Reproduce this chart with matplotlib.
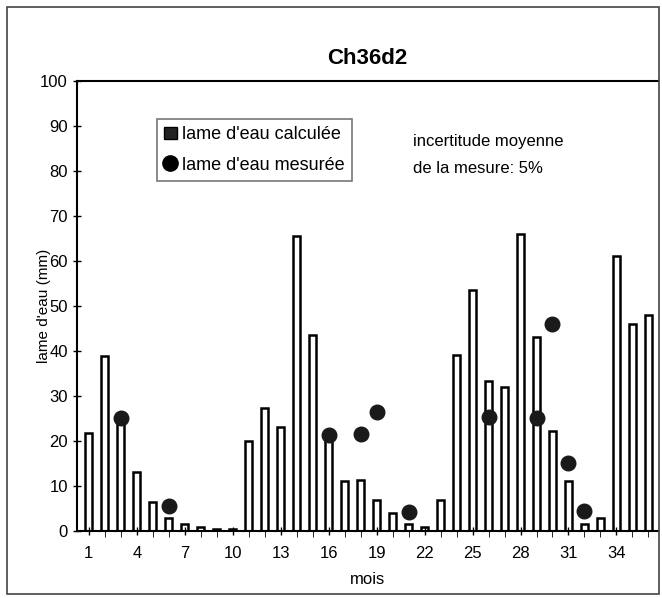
import matplotlib
matplotlib.use("Agg")
import matplotlib.pyplot as plt
from matplotlib.patches import Rectangle
from matplotlib.lines import Line2D

plt.rcParams['font.family'] = ['Liberation Sans', 'DejaVu Sans']

# lame d'eau calculée (mm), mois 1..36
mois = list(range(1, 37))
calculee = [21.7, 38.8, 24.0, 13.0, 6.4, 3.0, 1.5, 0.8, 0.5, 0.4,
            20.0, 27.3, 23.0, 65.5, 43.5, 21.0, 11.0, 11.3, 7.0, 4.0,
            1.5, 1.0, 7.0, 39.0, 53.5, 33.3, 32.0, 66.0, 43.0, 22.3,
            11.0, 1.5, 3.0, 61.0, 46.0, 48.0]

# lame d'eau mesurée (mm)
mois_mes = [3, 6, 16, 18, 19, 21, 26, 29, 30, 31, 32]
mesuree = [25.2, 5.5, 21.3, 21.5, 26.5, 4.2, 25.3, 25.0, 46.0, 15.0, 4.5]

fig = plt.figure(figsize=(6.62, 5.98), dpi=100)
ax = fig.add_axes([0.116, 0.112, 0.878, 0.753])

ax.bar(mois, calculee, width=0.45, color='white', edgecolor='black', linewidth=1.8)
ax.scatter(mois_mes, mesuree, s=110, color='#1a1a1a', zorder=3)

ax.set_xlim(0.25, 36.6)
ax.set_ylim(0, 100)
ax.set_yticks(range(0, 101, 10))
ax.set_xticks(range(1, 35, 3))
ax.set_xticks(mois, minor=True)
ax.tick_params(axis='both', direction='inout', labelsize=12, width=1, length=6)
ax.tick_params(axis='x', which='minor', direction='out', length=4)
ax.tick_params(axis='x', pad=8)
for s in ['left', 'bottom', 'top']:
    ax.spines[s].set_linewidth(1.5)
ax.spines['right'].set_visible(False)

ax.set_title('Ch36d2', fontsize=16, fontweight='bold', pad=12)
ax.set_xlabel('mois', fontsize=12, labelpad=8)
ax.set_ylabel("lame d'eau (mm)", fontsize=11)
ax.yaxis.set_label_coords(-0.045, 0.5)

handles = [Rectangle((0, 0), 1, 1, facecolor='#222222', edgecolor='black'),
           Line2D([], [], marker='o', linestyle='none', color='black', markersize=11)]
leg = ax.legend(handles, ["lame d'eau calculée", "lame d'eau mesurée"],
                loc='upper left', bbox_to_anchor=(0.122, 0.935), fontsize=13,
                frameon=True, fancybox=False, handlelength=0.7, handletextpad=0.3,
                borderpad=0.4, labelspacing=0.75)
leg.get_frame().set_edgecolor('#555555')
leg.get_frame().set_linewidth(1.2)

ax.text(0.578, 0.835, "incertitude moyenne\nde la mesure: 5%", transform=ax.transAxes,
        fontsize=12, va='center', ha='left', linespacing=1.95)

fig.patches.append(Rectangle((0.011, 0.006), 0.985, 0.983, transform=fig.transFigure,
                             fill=False, edgecolor='#444444', linewidth=1.2))

fig.savefig('out.png', dpi=100)
